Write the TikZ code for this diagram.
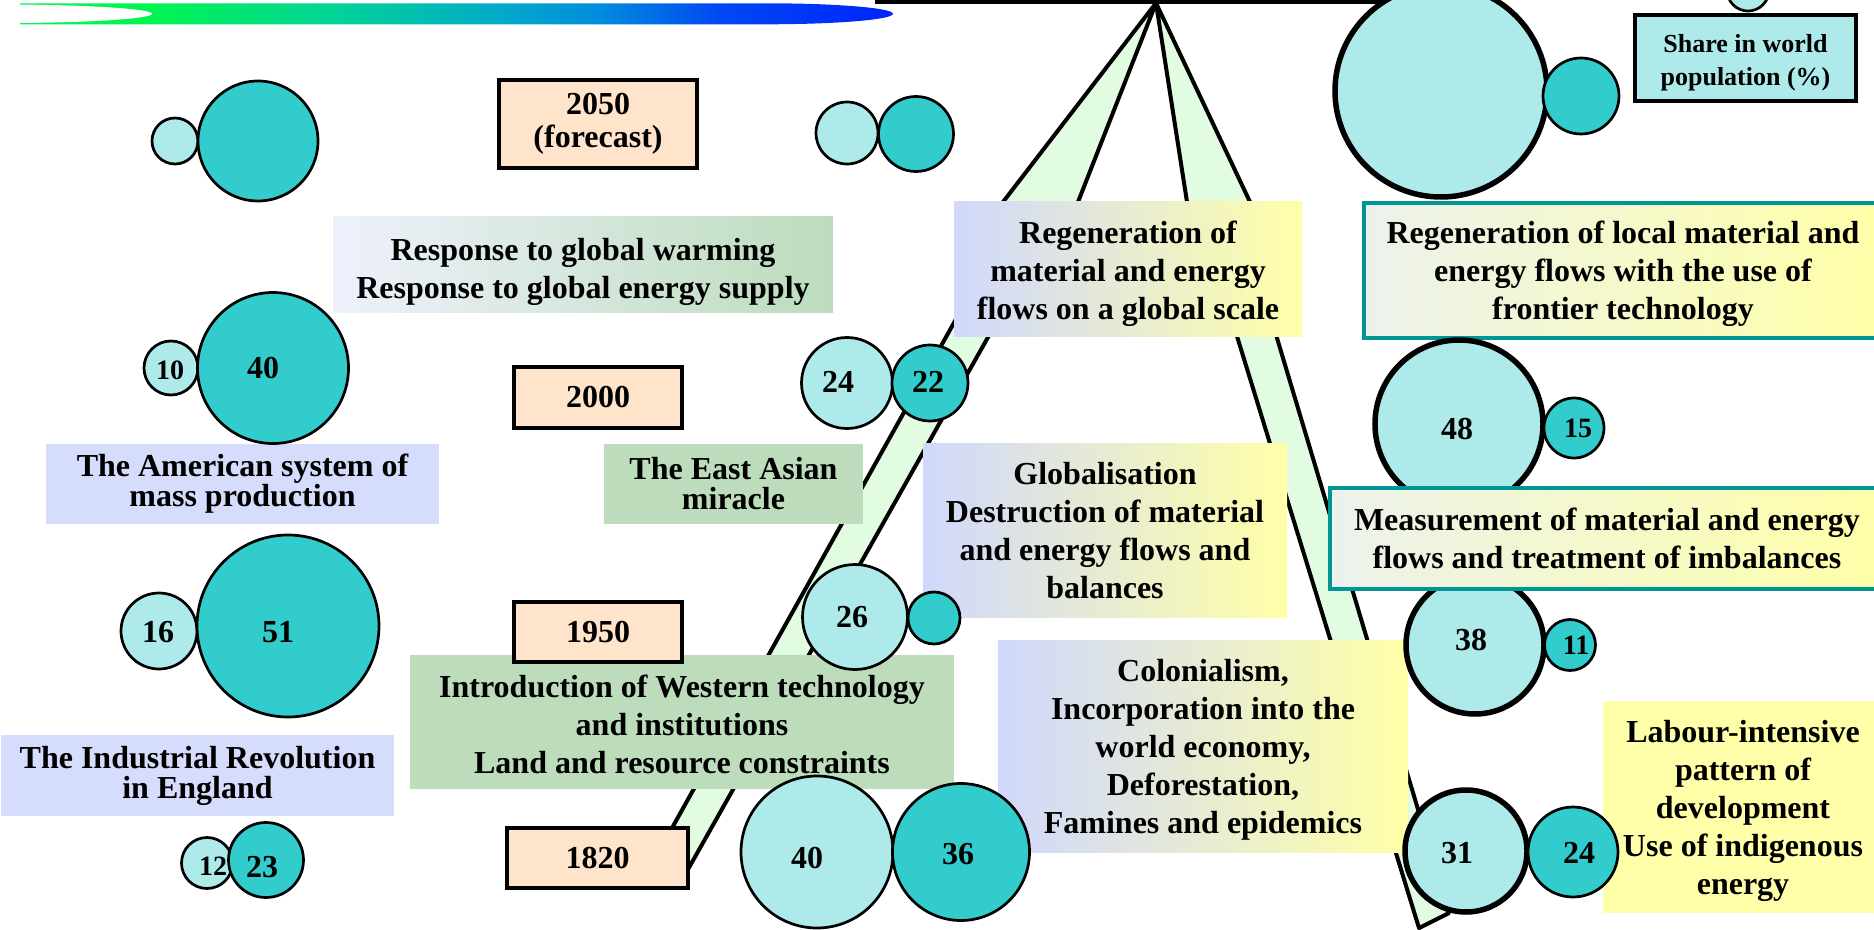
\documentclass[tikz,border=0pt]{standalone}
\usepackage{fontspec}
\setmainfont{Liberation Serif}
\usetikzlibrary{calc}

\definecolor{popfill}{RGB}{174,234,234}
\definecolor{gdpfill}{RGB}{51,204,204}
\definecolor{peach}{RGB}{255,228,204}
\definecolor{lavender}{RGB}{214,220,252}
\definecolor{sage}{RGB}{188,220,188}
\definecolor{lemon}{RGB}{255,255,170}
\definecolor{mist}{RGB}{238,241,252}
\definecolor{gradL}{RGB}{208,216,252}
\definecolor{gradR}{RGB}{255,255,168}
\definecolor{pale}{RGB}{236,242,236}
\definecolor{tealedge}{RGB}{0,150,150}
\definecolor{mint}{RGB}{226,252,226}
\definecolor{swA}{RGB}{0,245,80}
\definecolor{swB}{RGB}{0,212,150}
\definecolor{swC}{RGB}{0,170,200}
\definecolor{swD}{RGB}{0,140,222}
\definecolor{swE}{RGB}{0,72,242}
\definecolor{swF}{RGB}{0,35,255}
\pgfdeclarehorizontalshading{swoosh}{100bp}{color(0bp)=(swA); color(32.4bp)=(swA); color(42.8bp)=(swB); color(52.5bp)=(swC); color(58.2bp)=(swD); color(65.1bp)=(swE); color(75bp)=(swF); color(100bp)=(swF)}
\newcommand{\boxlift}[1][15pt]{\rule{0pt}{#1}}

\begin{document}
\begin{tikzpicture}[x=.5pt, y=-.5pt,
  txt/.style={font=\fontsize{16}{19}\selectfont\bfseries, align=center, inner sep=0pt},
  tighttxt/.style={txt, font=\fontsize{16}{15}\selectfont\bfseries},
  yearbox/.style={txt, draw=black, line width=1.75pt, fill=peach},
  flowbox/.style={txt, left color=gradL, right color=gradR},
  tealbox/.style={txt, draw=tealedge, line width=2pt, left color=pale, right color=gradR},
  popc/.style={circle, draw=black, line width=1.35pt, fill=popfill, inner sep=0pt},
  gdpc/.style={popc, fill=gdpfill},
  thickc/.style={line width=2.75pt},
  num/.style={font=\fontsize{16}{19}\selectfont\bfseries, inner sep=0pt},
  smallnum/.style={num, font=\fontsize{14}{16}\selectfont\bfseries},
  strip/.style={draw=black, line width=2pt, fill=mint, line join=round}]
\useasboundingbox (0,0) rectangle (1874,930);

\shade[shading=swoosh] (20,3.3) -- (767,3.3) arc[start angle=90, end angle=-90, x radius=63pt, y radius=5.25pt] -- (20,24.3) -- cycle;
\fill[white] (0,4.5) arc[start angle=90, end angle=-90, x radius=76pt, y radius=4.65pt] -- cycle;
\fill[black] (875,0) rectangle (1400,4.5);

\draw[strip] (1156,3) -- (1003,202) -- (955.5,320) -- (643,880) -- (682,880) -- (1009,300) -- (1078,202) -- cycle;
\draw[strip] (1156,3) -- (1187,202) -- (1232,320) -- (1419,928) -- (1449,913) -- (1271.6,320) -- (1250,202) -- cycle;

\node[txt, left color=mist, right color=sage, minimum width=250pt, minimum height=48pt] (resp) at (583,265) {\boxlift[18pt]Response to global warming\\Response to global energy supply};
\node[tighttxt, fill=lavender, minimum width=196.5pt, minimum height=40pt] (amer) at (242.5,484) {The American system of\\mass production};
\node[tighttxt, fill=sage, minimum width=129.5pt, minimum height=40pt] (easia) at (733.5,484) {The East Asian\\miracle};
\node[tighttxt, fill=lavender, minimum width=196.5pt, minimum height=40.5pt] (indus) at (197.5,775.5) {The Industrial Revolution\\in England};
\node[txt, fill=sage, minimum width=272pt, minimum height=67pt] (intro) at (682,722) {\boxlift[14pt]Introduction of Western technology\\and institutions\\Land and resource constraints};

\node[yearbox, font=\fontsize{16}{16.5}\selectfont\bfseries, minimum width=99pt, minimum height=44pt] (y2050) at (598,124) {2050\\(forecast)};
\node[yearbox, minimum width=84pt, minimum height=30.5pt] (y2000) at (598,397.5) {2000};
\node[yearbox, minimum width=84pt, minimum height=30pt] (y1950) at (598,632) {1950};
\node[yearbox, minimum width=90.5pt, minimum height=30pt] (y1820) at (597.5,858) {1820};

\node[flowbox, minimum width=174pt, minimum height=67.5pt] (regglob) at (1128,269.5) {\boxlift[15.5pt]Regeneration of\\material and energy\\flows on a global scale};
\node[flowbox, minimum width=182pt, minimum height=86.5pt] (glob) at (1105,530.5) {Globalisation\\Destruction of material\\and energy flows and\\balances};
\node[flowbox, minimum width=205pt, minimum height=106pt] (colon) at (1203,746) {\boxlift Colonialism,\\Incorporation into the\\world economy,\\Deforestation,\\Famines and epidemics};
\node[txt, fill=lemon, minimum width=140pt, minimum height=106pt] (labour) at (1743,807) {\boxlift Labour-intensive\\pattern of\\development\\Use of indigenous\\energy};
\node[tealbox, minimum width=259pt, minimum height=67.5pt] (regloc) at (1623,270.5) {\boxlift Regeneration of local material and\\energy flows with the use of\\frontier technology};

\foreach \cx/\cy/\r [count=\i] in {175/141/23, 847/133/31, 1748/-10/21, 171/368/27, 847/383/45.5, 159/631/38, 855/617/52.5, 207/863/25.5, 817/852/76}
  \node[popc, minimum size={\r*1pt}] (pop\i) at (\cx,\cy) {};
\foreach \cx/\cy/\r [count=\i] in {1441/91/106, 1459/424/84, 1475/645/69, 1466/851/61}
  \node[popc, thickc, minimum size={\r*1pt}] (big\i) at (\cx,\cy) {};
\foreach \cx/\cy/\r [count=\i] in {258/141/60, 916/134/37.5, 1581/96/38, 273/368/75.5, 930/383/38, 1574/428/30, 288/626/91, 934/618/26, 1570/645/25.5, 266/860/37.5, 961/852/68.5, 1573/852/45}
  \node[gdpc, minimum size={\r*1pt}] (gdp\i) at (\cx,\cy) {};

\foreach \tx/\ty/\v [count=\i] in {263/368/40, 928/382/22, 278/632/51, 262/867/23, 958/854/36, 1579/853/24, 838/382/24, 1457/429/48, 852/617/26, 1471/640/38, 807/858/40, 1457/853/31, 158/632/16}
  \node[num] (val\i) at (\tx,\ty) {\v};
\foreach \tx/\ty/\v [count=\i] in {170/370/10, 1578/428/15, 1576/645/11, 213/866/12}
  \node[smallnum] (sval\i) at (\tx,\ty) {\v};

\node[tealbox, minimum width=277pt, minimum height=50.5pt] (meas) at (1607,538.5) {Measurement of material and energy\\flows and treatment of imbalances};
\node[txt, font=\fontsize{13}{16.5}\selectfont\bfseries, draw=black, line width=1.75pt, fill=popfill, minimum width=110.5pt, minimum height=43pt] (legend) at (1745.5,58) {\boxlift[14pt]Share in world\\population (\%)};

\end{tikzpicture}
\end{document}
